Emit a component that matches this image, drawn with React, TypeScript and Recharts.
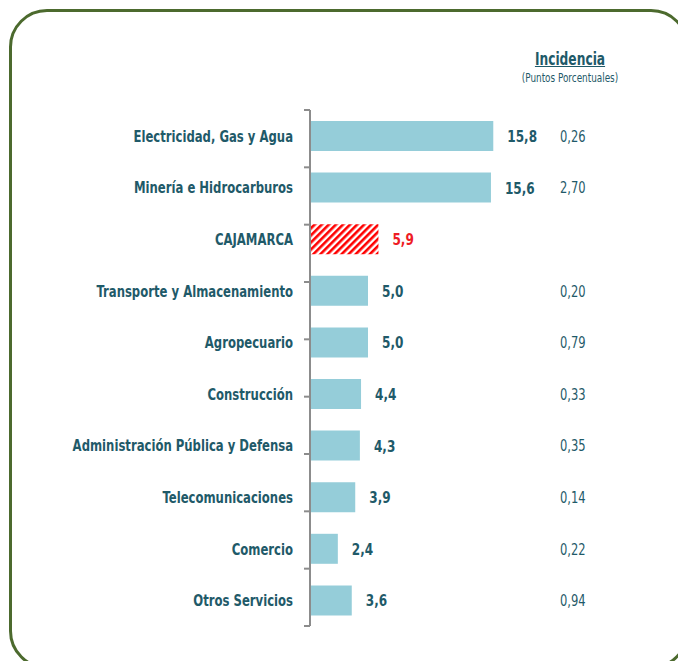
import React from 'react';
import { BarChart, Bar, XAxis, YAxis, Cell, LabelList } from 'recharts';

const categories = [
  'Electricidad, Gas y Agua',
  'Minería e Hidrocarburos',
  'CAJAMARCA',
  'Transporte y Almacenamiento',
  'Agropecuario',
  'Construcción',
  'Administración Pública y Defensa',
  'Telecomunicaciones',
  'Comercio',
  'Otros Servicios',
];
const growth = [15.8, 15.6, 5.9, 5.0, 5.0, 4.4, 4.3, 3.9, 2.4, 3.6];
const incidence = ['0,26', '2,70', '', '0,20', '0,79', '0,33', '0,35', '0,14', '0,22', '0,94'];
const highlight = 'CAJAMARCA';
const boundaryTicks = [0, 1, 2, 3, 4, 5, 6, 7, 8, 9, 10];

const data = categories.map((name, i) => ({ name, value: growth[i], inc: incidence[i] }));

const FONT = "'DejaVu Sans Condensed', 'DejaVu Sans', sans-serif";
const TEAL = '#1f5a69';
const RED = '#ee1c25';
const BAR = '#95cdd9';

const fmt = (v: number) => v.toFixed(1).replace('.', ',');

// condensed look: squeeze the text horizontally around its anchor
const CatTick = (props: any) => {
  const { x, y, payload } = props;
  return (
    <g transform={`translate(${x},${y})`}>
      <text transform="scale(0.81,1)" textAnchor="end" dy={6} fill={TEAL} fontFamily={FONT} fontWeight="bold" fontSize={16}>
        {payload.value}
      </text>
    </g>
  );
};

const IncTick = (props: any) => {
  const { x, y, index } = props;
  return (
    <g transform={`translate(${x},${y})`}>
      <text transform="scale(0.8,1)" textAnchor="start" dy={6} fill={TEAL} fontFamily={FONT} fontSize={16}>
        {incidence[index]}
      </text>
    </g>
  );
};

const ValueLabel = (props: any) => {
  const { x, y, width, height, value, index } = props;
  const isHl = categories[index] === highlight;
  return (
    <g transform={`translate(${x + width + 14},${y + height / 2})`}>
      <text
        transform="scale(0.84,1)"
        dy={6}
        fill={isHl ? RED : TEAL}
        fontFamily={FONT}
        fontWeight="bold"
        fontSize={16}
        textAnchor="start"
      >
        {fmt(value)}
      </text>
    </g>
  );
};

export default function App() {
  return (
    <div style={{ position: 'absolute', left: 0, top: 0, width: 678, height: 661, overflow: 'hidden', background: '#fff' }}>
      <div
        style={{
          position: 'absolute',
          left: 9,
          top: 9,
          width: 680,
          height: 660,
          border: '3px solid #4c6a2e',
          borderRadius: 38,
          boxSizing: 'border-box',
        }}
      />
      <div style={{ position: 'absolute', left: 470, width: 200, top: 49, textAlign: 'center', fontFamily: FONT, color: TEAL }}>
        <div style={{ fontSize: 17, fontWeight: 'bold', textDecoration: 'underline', transform: 'scaleX(0.8)' }}>Incidencia</div>
        <div style={{ fontSize: 12, marginTop: 2, transform: 'scaleX(0.82)' }}>(Puntos Porcentuales)</div>
      </div>
      <div style={{ position: 'absolute', left: 0, top: 0 }}>
        <BarChart
          width={678}
          height={661}
          data={data}
          layout="vertical"
          margin={{ top: 110, right: 36, bottom: 35, left: 0 }}
          barSize={30}
        >
          <defs>
            <pattern id="hatch" width="5" height="5" patternUnits="userSpaceOnUse" patternTransform="rotate(45)">
              <rect width="5" height="5" fill="#fff" />
              <rect width="2.6" height="5" fill="#ff0000" />
            </pattern>
          </defs>
          <XAxis type="number" domain={[0, 20]} hide />
          <YAxis
            yAxisId="bounds"
            type="number"
            domain={[0, 10]}
            ticks={boundaryTicks}
            width={1}
            tickSize={6}
            tickFormatter={() => ''}
            axisLine={{ stroke: '#8c8c8c', strokeWidth: 2 }}
            tickLine={{ stroke: '#8c8c8c', strokeWidth: 2 }}
          />
          <YAxis
            yAxisId="cat"
            type="category"
            dataKey="name"
            width={309}
            axisLine={false}
            tickLine={false}
            tickSize={0}
            tickMargin={16}
            interval={0}
            tick={<CatTick />}
          />
          <YAxis
            yAxisId="inc"
            orientation="right"
            type="category"
            dataKey="name"
            width={100}
            axisLine={false}
            tickLine={false}
            tickSize={0}
            tickMargin={18}
            interval={0}
            tick={<IncTick />}
          />
          <Bar dataKey="value" yAxisId="cat" isAnimationActive={false}>
            {data.map((d) => (
              <Cell key={d.name} fill={d.name === highlight ? 'url(#hatch)' : BAR} />
            ))}
            <LabelList dataKey="value" content={ValueLabel} />
          </Bar>
        </BarChart>
      </div>
    </div>
  );
}
